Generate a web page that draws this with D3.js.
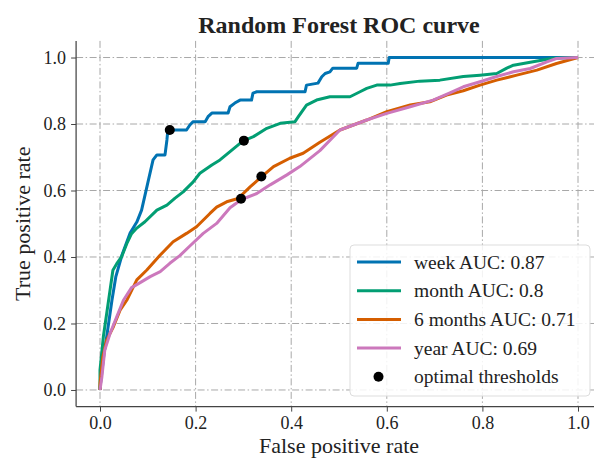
<!DOCTYPE html>
<html lang="en">
<head>
<meta charset="utf-8">
<title>Random Forest ROC curve</title>
<script src="https://d3js.org/d3.v7.min.js"></script>
<style>
  body { margin: 0; background: #fff; }
  text { font-family: "Liberation Serif", "Times New Roman", serif; fill: #222; }
</style>
</head>
<body>
<script>
// ROC curves (false positive rate, true positive rate)
var weekFpr = [0, 0, 0.008, 0.014, 0.025, 0.033, 0.046, 0.063, 0.077, 0.087, 0.1, 0.111, 0.119, 0.136, 0.14, 0.142, 0.181, 0.188, 0.195, 0.22, 0.226, 0.234, 0.268, 0.272, 0.282, 0.293, 0.317, 0.32, 0.328, 0.429, 0.432, 0.456, 0.464, 0.471, 0.481, 0.487, 0.537, 0.54, 0.603, 0.605, 1];
var weekTpr = [0, 0.006, 0.105, 0.16, 0.27, 0.34, 0.406, 0.472, 0.505, 0.541, 0.623, 0.692, 0.707, 0.707, 0.752, 0.782, 0.782, 0.797, 0.807, 0.807, 0.822, 0.833, 0.833, 0.852, 0.863, 0.872, 0.872, 0.893, 0.897, 0.897, 0.917, 0.923, 0.942, 0.952, 0.957, 0.968, 0.968, 0.983, 0.983, 1, 1];

var monthFpr = [0, 0, 0.007, 0.014, 0.021, 0.027, 0.035, 0.045, 0.056, 0.066, 0.077, 0.094, 0.119, 0.14, 0.157, 0.174, 0.195, 0.209, 0.234, 0.251, 0.272, 0.293, 0.301, 0.321, 0.349, 0.377, 0.408, 0.415, 0.432, 0.453, 0.481, 0.523, 0.544, 0.558, 0.579, 0.607, 0.628, 0.669, 0.711, 0.76, 0.795, 0.83, 0.851, 0.865, 0.906, 0.948, 1];
var monthTpr = [0, 0.06, 0.16, 0.23, 0.30, 0.36, 0.38, 0.40, 0.44, 0.47, 0.487, 0.506, 0.541, 0.556, 0.577, 0.596, 0.626, 0.652, 0.677, 0.692, 0.717, 0.742, 0.75, 0.762, 0.787, 0.802, 0.807, 0.822, 0.857, 0.872, 0.882, 0.882, 0.897, 0.907, 0.917, 0.917, 0.922, 0.929, 0.932, 0.943, 0.947, 0.952, 0.968, 0.977, 0.987, 0.998, 1];

var sixMonthFpr = [0, 0, 0.006, 0.014, 0.028, 0.042, 0.056, 0.077, 0.098, 0.126, 0.153, 0.181, 0.202, 0.23, 0.244, 0.265, 0.289, 0.314, 0.337, 0.363, 0.397, 0.425, 0.46, 0.502, 0.558, 0.6, 0.649, 0.69, 0.725, 0.76, 0.795, 0.83, 0.872, 0.914, 0.955, 1];
var sixMonthTpr = [0, 0.02, 0.1, 0.15, 0.19, 0.24, 0.27, 0.331, 0.361, 0.406, 0.446, 0.471, 0.491, 0.531, 0.55, 0.566, 0.576, 0.611, 0.64, 0.672, 0.697, 0.712, 0.745, 0.782, 0.812, 0.837, 0.857, 0.867, 0.887, 0.9, 0.917, 0.932, 0.947, 0.962, 0.982, 1];

var yearFpr = [0, 0.004, 0.01, 0.021, 0.035, 0.049, 0.066, 0.084, 0.105, 0.126, 0.146, 0.167, 0.188, 0.216, 0.244, 0.272, 0.296, 0.328, 0.356, 0.391, 0.418, 0.46, 0.502, 0.558, 0.6, 0.649, 0.697, 0.732, 0.76, 0.795, 0.83, 0.865, 0.9, 0.935, 0.955, 1];
var yearTpr = [0, 0.04, 0.12, 0.17, 0.22, 0.27, 0.308, 0.323, 0.341, 0.356, 0.381, 0.404, 0.433, 0.471, 0.501, 0.548, 0.573, 0.591, 0.617, 0.647, 0.672, 0.72, 0.782, 0.812, 0.832, 0.852, 0.872, 0.894, 0.912, 0.927, 0.943, 0.957, 0.967, 0.987, 0.997, 1];

var seriesNames = ["week AUC: 0.87", "month AUC: 0.8", "6 months AUC: 0.71", "year AUC: 0.69"];
var seriesColors = ["#0173b2", "#029e73", "#d55e00", "#cc78bc"];

// optimal thresholds (one dot per curve)
var optFpr = [0.146, 0.301, 0.3375, 0.295];
var optTpr = [0.782, 0.75, 0.642, 0.575];

var tickValues = [0, 0.2, 0.4, 0.6, 0.8, 1.0];

var w = 594, h = 460;
var plotLeft = 76.1, plotRight = 601.9, plotTop = 40.9, plotBottom = 406.6;

var xScale = d3.scaleLinear().domain([-0.05, 1.05]).range([plotLeft, plotRight]);
var yScale = d3.scaleLinear().domain([-0.05, 1.05]).range([plotBottom, plotTop]);

var svg = d3.select("body").append("svg")
    .attr("width", w)
    .attr("height", h);

// grid, dash-dot
var grid = svg.append("g").attr("class", "grid");
grid.selectAll("line.gx")
    .data(tickValues)
    .enter().append("line")
    .attr("x1", d => xScale(d)).attr("x2", d => xScale(d))
    .attr("y1", plotTop).attr("y2", plotBottom)
    .attr("stroke", "#a8a8a8").attr("stroke-width", 1)
    .attr("stroke-dasharray", "7,2.5,1.5,2.5");
grid.selectAll("line.gy")
    .data(tickValues)
    .enter().append("line")
    .attr("y1", d => yScale(d)).attr("y2", d => yScale(d))
    .attr("x1", plotLeft).attr("x2", plotRight)
    .attr("stroke", "#a8a8a8").attr("stroke-width", 1)
    .attr("stroke-dasharray", "7,2.5,1.5,2.5");

// axes
var xAxis = d3.axisBottom(xScale).tickValues(tickValues).tickFormat(d3.format(".1f")).tickSize(5).tickPadding(5);
var yAxis = d3.axisLeft(yScale).tickValues(tickValues).tickFormat(d3.format(".1f")).tickSize(5).tickPadding(5);

var gx = svg.append("g").attr("transform", "translate(0," + plotBottom + ")").call(xAxis);
var gy = svg.append("g").attr("transform", "translate(" + plotLeft + ",0)").call(yAxis);
[gx, gy].forEach(function(g) {
    g.select(".domain").remove();
    g.selectAll(".tick line").attr("stroke", "#444").attr("stroke-width", 1);
    g.selectAll(".tick text")
        .style("font-family", "'Liberation Serif', serif")
        .style("font-size", "18px")
        .attr("fill", "#222");
});

// spines (left and bottom only)
svg.append("line").attr("x1", plotLeft).attr("x2", plotLeft).attr("y1", plotTop).attr("y2", plotBottom)
    .attr("stroke", "#444").attr("stroke-width", 1.25);
svg.append("line").attr("x1", plotLeft).attr("x2", plotRight).attr("y1", plotBottom).attr("y2", plotBottom)
    .attr("stroke", "#444").attr("stroke-width", 1.25);

// curves
var curves = [
    {fpr: weekFpr, tpr: weekTpr},
    {fpr: monthFpr, tpr: monthTpr},
    {fpr: sixMonthFpr, tpr: sixMonthTpr},
    {fpr: yearFpr, tpr: yearTpr}
];

var line = d3.line()
    .x(d => xScale(d[0]))
    .y(d => yScale(d[1]));

svg.selectAll("path.roc")
    .data(curves)
    .enter().append("path")
    .attr("class", "roc")
    .attr("fill", "none")
    .attr("stroke", (d, i) => seriesColors[i])
    .attr("stroke-width", 3)
    .attr("stroke-linejoin", "round")
    .attr("d", d => line(d.fpr.map((f, i) => [f, d.tpr[i]])));

svg.selectAll("circle.opt")
    .data(optFpr)
    .enter().append("circle")
    .attr("class", "opt")
    .attr("cx", d => xScale(d))
    .attr("cy", (d, i) => yScale(optTpr[i]))
    .attr("r", 5)
    .attr("fill", "#000");

// title and axis labels
svg.append("text")
    .attr("x", (plotLeft + plotRight) / 2)
    .attr("y", 33)
    .attr("text-anchor", "middle")
    .style("font-size", "24px")
    .style("font-weight", "bold")
    .attr("fill", "#111")
    .text("Random Forest ROC curve");

svg.append("text")
    .attr("x", (plotLeft + plotRight) / 2)
    .attr("y", 453)
    .attr("text-anchor", "middle")
    .style("font-size", "22px")
    .text("False positive rate");

svg.append("text")
    .attr("transform", "rotate(-90)")
    .attr("x", -(plotTop + plotBottom) / 2)
    .attr("y", 30)
    .attr("text-anchor", "middle")
    .style("font-size", "22px")
    .text("True positive rate");

// legend
var legend = svg.append("g").attr("transform", "translate(350,245)");
legend.append("rect")
    .attr("width", 240).attr("height", 151)
    .attr("rx", 4)
    .attr("fill", "#fff").attr("fill-opacity", 0.85)
    .attr("stroke", "#ddd").attr("stroke-width", 1);

var legendLabels = seriesNames.concat(["optimal thresholds"]);
var rowY = function(i) { return 17 + i * 28.7; };

legend.selectAll("line.key")
    .data(seriesNames)
    .enter().append("line")
    .attr("x1", 7).attr("x2", 51)
    .attr("y1", (d, i) => rowY(i)).attr("y2", (d, i) => rowY(i))
    .attr("stroke", (d, i) => seriesColors[i])
    .attr("stroke-width", 3);

legend.append("circle")
    .attr("cx", 28.5).attr("cy", rowY(4))
    .attr("r", 5).attr("fill", "#000");

legend.selectAll("text.lab")
    .data(legendLabels)
    .enter().append("text")
    .attr("x", 64)
    .attr("y", (d, i) => rowY(i) + 6.5)
    .style("font-size", "19.5px")
    .text(d => d);
</script>
</body>
</html>
